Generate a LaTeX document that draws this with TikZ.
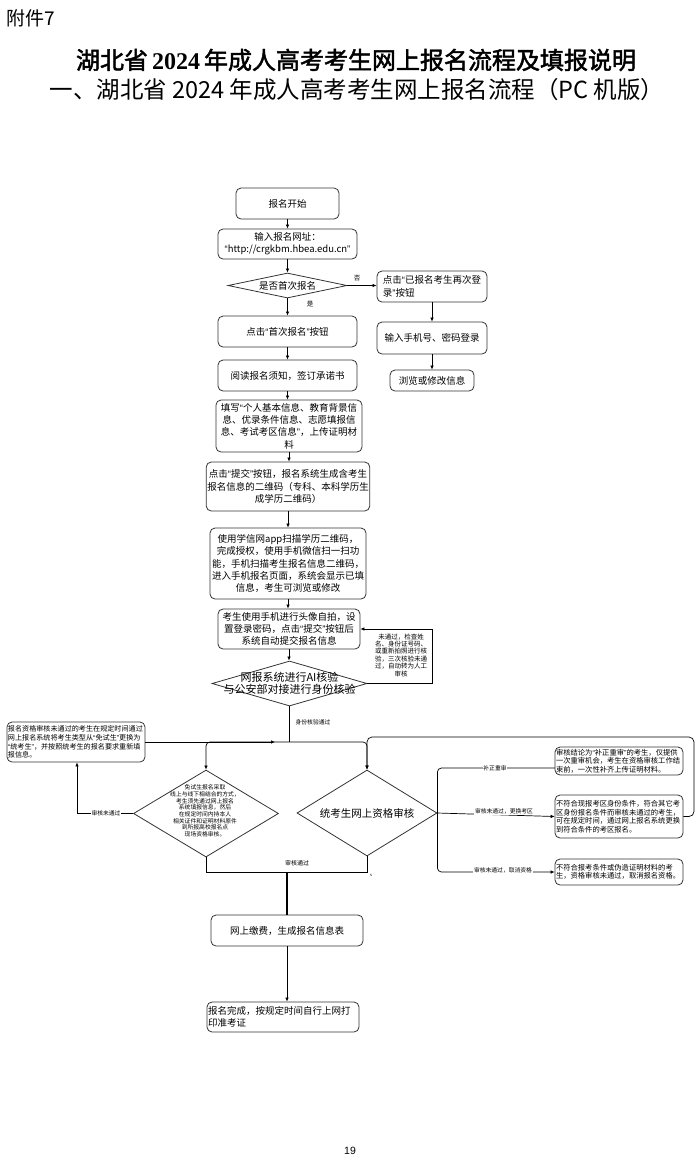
\documentclass[tikz,border=0pt]{standalone}
\usepackage{fontspec}
\setmainfont{Noto Sans CJK SC}
\newfontfamily\titlefont[FakeBold=2]{Noto Sans CJK SC}
\newfontfamily\serifnum{Liberation Serif}
\newfontfamily\arialfont{Liberation Sans}
\usetikzlibrary{arrows.meta,shapes.geometric}
\newcommand\fs[2]{\fontsize{#1pt}{#2pt}\selectfont}
\newcommand\oq{{\arialfont “}}
\newcommand\cq{{\arialfont ”}}
\begin{document}
\begin{tikzpicture}[x=1pt,y=-1pt,
  box/.style={draw=black!80, line width=0.8pt, rounded corners=5pt, inner sep=1pt, align=center, font=\fs{9.5}{12.3}},
  wh/.style 2 args={minimum width=#1pt, minimum height=#2pt},
  dia/.style={draw=black!80, line width=0.8pt, shape=diamond, inner sep=0pt},
  con/.style={line width=0.7pt, draw=black},
  arr/.style={-{Latex[length=4pt,width=3.6pt]}},
  lab/.style={font=\fs{5.8}{7}, inner sep=0.6pt}
]
\useasboundingbox (0,0) rectangle (700,1160);

% header
\node[anchor=west, font=\fs{19}{22}] (att) at (3,18) {附件7};
\node[font=\titlefont\fs{24}{28}] (t1) at (356,60) {湖北省\,{\serifnum\bfseries 2024}\,年成人高考考生网上报名流程及填报说明};
\node[font=\fs{23.5}{27}] (t2) at (357,90) {一、湖北省 2024 年成人高考考生网上报名流程（PC 机版）};

% main column
\node[box, wh={103}{31}] (start) at (287.5,203.5) {报名开始};
\node[box, wh={139}{30}] (url) at (287.5,244) {输入报名网址：\\\oq http://crgkbm.hbea.edu.cn\cq};
\node[dia, wh={119}{25}] (d1) at (287.5,285.5) {};
\node[font=\fs{9.5}{12}, inner sep=0pt] (d1t) at (d1) {是否首次报名};
\node[box, wh={139}{31}] (b3) at (287.5,331.5) {点击\oq 首次报名\cq 按钮};
\node[box, wh={139}{31}] (b4) at (287.5,375.5) {阅读报名须知，签订承诺书};
\node[box, wh={146}{52}] (b5) at (289,426) {填写\oq 个人基本信息、教育背景信\\息、优录条件信息、志愿填报信\\息、考试考区信息\cq ，上传证明材\\料};
\node[box, wh={162}{49}] (b6) at (288,486.5) {点击\oq 提交\cq 按钮，报名系统生成含考生\\报名信息的二维码（专科、本科学历生\\成学历二维码）};
\node[box, wh={156}{71}] (b7) at (288,563.5) {使用学信网app扫描学历二维码，\\完成授权，使用手机微信扫一扫功\\能，手机扫描考生报名信息二维码，\\进入手机报名页面，系统会显示已填\\信息，考生可浏览或修改};
\node[box, wh={142}{40}] (b8) at (289,629) {考生使用手机进行头像自拍，设\\置登录密码，点击\oq 提交\cq 按钮后\\系统自动提交报名信息};
\node[dia, wh={155}{45}] (d2) at (289.5,683.5) {};
\node[font=\fs{11}{12}, align=center, inner sep=0pt] (d2t) at (d2) {网报系统进行AI核验\\与公安部对接进行身份核验};

% right column (re-login)
\node[box, wh={110}{31}, align=left] (r1) at (432,286.5) {点击\oq 已报名考生再次登\\录\cq 按钮};
\node[box, wh={110}{32}] (r2) at (432,338) {输入手机号、密码登录};
\node[box, wh={84}{21}] (r3) at (432,380.5) {浏览或修改信息};

% top connectors
\draw[con,arr] (start.south) -- (start.south |- url.north);
\draw[con,arr] (url.south) -- (url.south |- d1.north);
\draw[con,arr] (d1.south) -- (d1.south |- b3.north);
\draw[con,arr] (d1.east) -- (d1.east -| r1.west);
\node[lab, font=\fs{6.5}{7}] (no) at (357,278) {否};
\node[lab, font=\fs{6.5}{7}] (yes) at (310,304) {是};
\draw[con,arr] (r1.south) -- (r1.south |- r2.north);
\draw[con,arr] (r2.south) -- (r2.south |- r3.north);
\draw[con,arr] (b3.south) -- (b3.south |- b4.north);
\draw[con,arr] (b4.south) -- (b4.south |- b5.north);
\draw[con,arr] (b5.south) -- (b5.south |- b6.north);
\draw[con,arr] (b6.south) -- (b6.south |- b7.north);
\draw[con,arr] (b7.south) -- (b7.south |- b8.north);
\draw[con,arr] (b8.south) -- (b8.south |- d2.north);

% AI check feedback loop
\coordinate (fb1) at (432,683.5);
\draw[con,arr] (d2.east) -- (fb1) |- (b8.east);
\node[font=\fs{6.5}{7.4}, align=center, inner sep=0pt] (fbt) at (401,655) {未通过，检查姓\\名、身份证号码、\\或重新拍照进行核\\验，三次核验未通\\过，自动转为人工\\审核};

% split after identity check
\node[lab] (l1) at (313,722) {身份核验通过};
\coordinate (J) at (289.5,742);
\node[box, wh={138}{40}, align=left, text width=136pt, font=\fs{7.1}{8.7}] (lbox) at (76,742) {报名资格审核未通过的考生在规定时间通过\\网上报名系统将考生类型从\oq 免试生\cq 更换为\\\oq 统考生\cq ，并按照统考生的报名要求重新填\\报信息。};
\node[dia, wh={145}{87}] (d3) at (206,813.5) {};
\node[font=\fs{5.8}{6.7}, align=center, inner sep=0pt] (d3t) at (205,811) {免试生报名采取\\线上与线下相结合的方式，\\考生须先通过网上报名\\系统填报信息，然后\\在规定时间内持本人\\相关证件和证明材料原件\\到所报高校报名点\\现场资格审核。};
\node[dia, wh={140}{86}] (d4) at (367,813) {};
\node[font=\fs{10.5}{12}, inner sep=0pt] (d4t) at (d4) {统考生网上资格审核};

\draw[con] (d2.south) -- (J);
\draw[con,arr,rounded corners=4pt] (J) -| (d3.north);
\draw[con,arr,rounded corners=4pt] (J) -| (d4.north);
\coordinate (A) at (275,742);
\draw[con,arr] (lbox.east) -- (A);

% left diamond: not passed
\coordinate (L1) at (77,813.5);
\draw[con,arr] (d3.west) -- (L1) -- (L1 |- lbox.south);
\node[lab, fill=white] (l2) at (106,813.5) {审核未通过};

% right boxes
\node[box, wh={128}{28}, align=left, text width=126pt, font=\fs{7.3}{8.5}] (rb1) at (619,761) {审核结论为\oq 补正重审\cq 的考生，仅提供\\一次重审机会，考生在资格审核工作结\\束前，一次性补齐上传证明材料。};
\node[box, wh={128}{43}, align=left, text width=126pt, font=\fs{7.3}{8.5}] (rb2) at (619,816.5) {不符合现报考区身份条件，符合其它考\\区身份报名条件而审核未通过的考生，\\可在规定时间，通过网上报名系统更换\\到符合条件的考区报名。};
\node[box, wh={128}{26}, align=left, text width=126pt, font=\fs{7.3}{8.5}] (rb3) at (619,872) {不符合报考条件或伪造证明材料的考\\生，资格审核未通过，取消报名资格。};

\coordinate (bp1) at (555,768);
\draw[con,rounded corners=4pt] (d4.east) |- (bp1);
\draw[con,arr] (d4.east) -- (rb2.west);
\draw[con,arr,rounded corners=4pt] (d4.east) |- (rb3.west);
\node[lab, fill=white] (l3) at (495,768) {补正重审};
\node[lab, fill=white] (l4) at (504,811.5) {审核未通过，更换考区};
\node[lab, fill=white] (l5) at (503,870) {审核未通过，取消资格};

\coordinate (lr) at (694,737);
\draw[con,arr,rounded corners=5pt] (rb2.east) -| (lr) -| (d4.north);

% passed
\node[box, wh={152}{31}] (pay) at (287,930.5) {网上缴费，生成报名信息表};
\node[box, wh={152}{30}, align=left, text width=150pt] (done) at (283,1017) {报名完成，按规定时间自行上网打\\印准考证};
\coordinate (M) at (287,872);
\draw[con] (d3.south) |- (M) -| (d4.south);
\draw[con, line width=1.1pt] (M) -- (pay.north);
\node[lab, font=\fs{6}{7}] (l6) at (297,863) {审核通过};
\node[font=\fs{4}{4}, inner sep=0pt] (sx) at (371,875) {s};
\draw[con,arr] (pay.south) -- (pay.south |- done.north);

\node[font=\arialfont\fs{10.5}{12}] (pg) at (350,1151) {19};
\end{tikzpicture}
\end{document}
